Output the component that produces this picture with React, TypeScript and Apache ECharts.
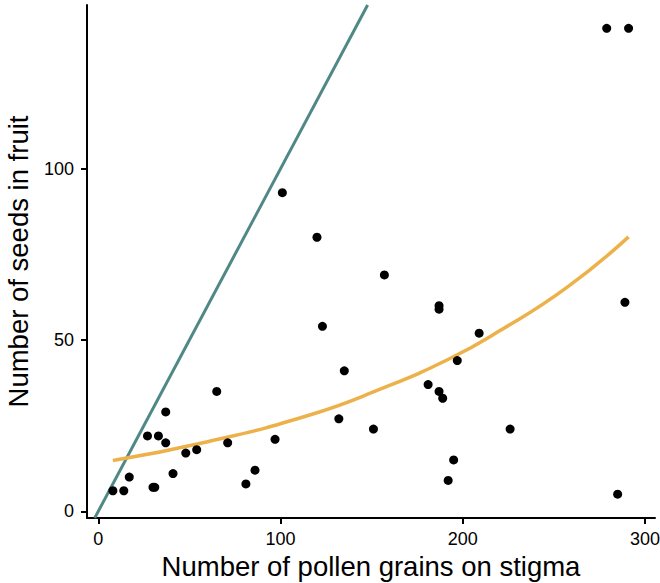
import React, { useEffect, useRef } from "react";
import * as echarts from "echarts";

const pollen = [8, 14, 17, 27, 33, 37, 37, 30, 31, 41, 48, 54, 65, 71, 81, 86, 97, 101, 120, 123, 132, 135, 151, 157, 181, 187, 189, 187, 187, 195, 192, 197, 209, 226, 279, 291, 289, 285];
const seeds = [6, 6, 10, 22, 22, 29, 20, 7, 7, 11, 17, 18, 35, 20, 8, 12, 21, 93, 80, 54, 27, 41, 24, 69, 37, 35, 33, 60, 59, 15, 9, 44, 52, 24, 141, 141, 61, 5];

const fitX = [8, 60, 116, 155, 193, 220, 257, 291];
const fitY = [14.8, 20.3, 28.1, 35.7, 44.6, 52.6, 65.3, 80.1];

const oneToOne = [-1.96, 147.8];

const xTicks = [0, 100, 200, 300];
const yTicks = [0, 50, 100];

const FONT = "Liberation Sans, Arial, sans-serif";

export default function App() {
  const ref = useRef<HTMLDivElement>(null);
  useEffect(() => {
    if (!ref.current) return;
    const chart = echarts.init(ref.current, null, { renderer: "svg" });
    const axisCommon = {
      type: "value" as const,
      splitLine: { show: false },
      axisLine: { show: true, onZero: false, lineStyle: { color: "#000", width: 2 } },
      axisTick: { show: true, length: 6, lineStyle: { color: "#000", width: 2 } },
      nameLocation: "middle" as const,
      nameTextStyle: { fontFamily: FONT, fontSize: 27.5, color: "#000" },
    };
    chart.setOption({
      animation: false,
      backgroundColor: "#fff",
      grid: { left: 87, right: 5, top: 5, bottom: 65, containLabel: false, outerBoundsMode: "none" },
      xAxis: {
        ...axisCommon,
        min: -6.2,
        max: 305.5,
        name: "Number of pollen grains on stigma",
        nameGap: 29,
        axisTick: { ...axisCommon.axisTick, customValues: xTicks },
        axisLabel: { customValues: xTicks, fontFamily: FONT, fontSize: 18, color: "#000", margin: 12 },
      },
      yAxis: {
        ...axisCommon,
        min: -1.96,
        max: 147.8,
        name: "Number of seeds in fruit",
        nameGap: 55,
        axisTick: { ...axisCommon.axisTick, customValues: yTicks },
        axisLabel: { customValues: yTicks, fontFamily: FONT, fontSize: 18, color: "#000", margin: 13 },
      },
      series: [
        {
          type: "line",
          data: oneToOne.map((v) => [v, v]),
          symbol: "none",
          lineStyle: { color: "#4F8886", width: 3 },
          clip: true,
          z: 2,
        },
        {
          type: "line",
          data: fitX.map((x, i) => [x, fitY[i]]),
          symbol: "none",
          smooth: 0.5,
          lineStyle: { color: "#EDB14A", width: 3.5 },
          z: 2,
        },
        {
          type: "scatter",
          data: pollen.map((x, i) => [x, seeds[i]]),
          symbolSize: 9,
          itemStyle: { color: "#000", opacity: 1 },
          z: 3,
        },
      ],
    });
    return () => chart.dispose();
  }, []);
  return <div ref={ref} style={{ width: 660, height: 583, position: "absolute", left: 0, top: 0 }} />;
}
